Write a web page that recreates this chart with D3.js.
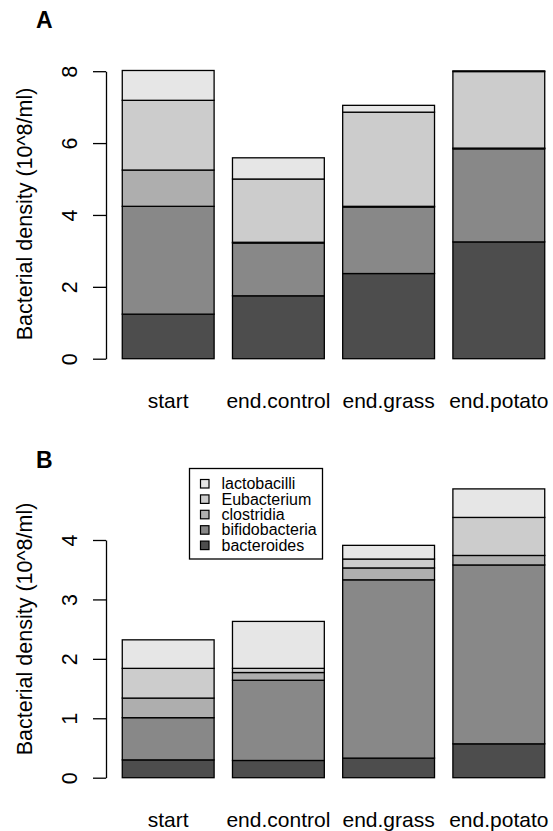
<!DOCTYPE html>
<html>
<head>
<meta charset="utf-8">
<script src="https://cdn.jsdelivr.net/npm/d3@7"></script>
<style>
  html, body { margin: 0; padding: 0; background: #fff; }
  svg { display: block; }
  text { font-family: "Liberation Sans", Arial, Helvetica, sans-serif; fill: #000; }
</style>
</head>
<body>
<svg id="chart" width="553" height="831"></svg>
<script>
// ---- data ----
const categories = ["start", "end.control", "end.grass", "end.potato"];
const groups = ["bacteroides", "bifidobacteria", "clostridia", "Eubacterium", "lactobacilli"];
const groupColors = ["#4D4D4D", "#888888", "#AEAEAE", "#CCCCCC", "#E6E6E6"];

// Panel A
const panelA_bacteroides    = [1.24, 1.75, 2.37, 3.25];
const panelA_bifidobacteria = [3.00, 1.47, 1.85, 2.59];
const panelA_clostridia     = [1.01, 0.02, 0.02, 0.02];
const panelA_Eubacterium    = [1.94, 1.76, 2.62, 2.13];
const panelA_lactobacilli   = [0.83, 0.59, 0.19, 0.02];
const panelA_ticks = [0, 2, 4, 6, 8];

// Panel B
const panelB_bacteroides    = [0.30, 0.29, 0.33, 0.57];
const panelB_bifidobacteria = [0.71, 1.35, 3.00, 3.01];
const panelB_clostridia     = [0.33, 0.13, 0.20, 0.16];
const panelB_Eubacterium    = [0.50, 0.07, 0.15, 0.64];
const panelB_lactobacilli   = [0.48, 0.79, 0.23, 0.48];
const panelB_ticks = [0, 1, 2, 3, 4];

const yTitle = "Bacterial density (10^8/ml)";

// ---- build ----
function rows(b, bi, c, e, l) {
  return categories.map((cat, i) => ({
    cat,
    bacteroides: b[i], bifidobacteria: bi[i], clostridia: c[i], Eubacterium: e[i], lactobacilli: l[i]
  }));
}
const dataA = rows(panelA_bacteroides, panelA_bifidobacteria, panelA_clostridia, panelA_Eubacterium, panelA_lactobacilli);
const dataB = rows(panelB_bacteroides, panelB_bifidobacteria, panelB_clostridia, panelB_Eubacterium, panelB_lactobacilli);

const svg = d3.select("#chart");
const color = d3.scaleOrdinal().domain(groups).range(groupColors);
const x = d3.scaleBand().domain(categories).range([103.9, 563.1]).paddingInner(1/6).paddingOuter(1/6);
const axisX = 106;

function panel(data, ticks, yZero, yTop, letter, letterY, titleY, labelY, withLegend) {
  const y = d3.scaleLinear().domain([0, d3.max(ticks)]).range([yZero, yTop]);
  const stack = d3.stack().keys(groups)(data);
  const g = svg.append("g");

  g.selectAll("g.layer").data(stack).join("g")
    .attr("class", "layer")
    .attr("fill", d => color(d.key))
    .selectAll("rect").data(d => d).join("rect")
    .attr("x", d => x(d.data.cat))
    .attr("width", x.bandwidth())
    .attr("y", d => y(d[1]))
    .attr("height", d => y(d[0]) - y(d[1]))
    .attr("stroke", "#000")
    .attr("stroke-width", 1.3);

  const ax = g.append("g")
    .attr("transform", `translate(${axisX},0)`)
    .call(d3.axisLeft(y).tickValues(ticks).tickSize(13).tickSizeOuter(0).tickFormat(d3.format("d")));
  ax.select(".domain").attr("stroke", "#000").attr("stroke-width", 1.3);
  ax.selectAll(".tick line").attr("stroke", "#000").attr("stroke-width", 1.3);
  ax.selectAll(".tick text")
    .attr("x", null).attr("y", null).attr("dy", null)
    .attr("text-anchor", "middle")
    .attr("transform", "translate(-29,0) rotate(-90)")
    .style("font-size", "21.5px")
    .style("font-family", "'Liberation Sans', Arial, sans-serif")
    .attr("fill", "#000");

  g.append("text")
    .attr("transform", `translate(32,${titleY}) rotate(-90)`)
    .attr("text-anchor", "middle")
    .style("font-size", "21.5px")
    .text(yTitle);

  g.selectAll("text.cat").data(categories).join("text")
    .attr("class", "cat")
    .attr("x", d => x(d) + x.bandwidth() / 2)
    .attr("y", labelY)
    .attr("text-anchor", "middle")
    .style("font-size", "21px")
    .text(d => d);

  g.append("text")
    .attr("x", 36)
    .attr("y", letterY)
    .style("font-size", "23px")
    .style("font-weight", "bold")
    .text(letter);

  if (withLegend) {
    const lg = g.append("g");
    lg.append("rect")
      .attr("x", 189.5).attr("y", 468.5).attr("width", 133).attr("height", 90.5)
      .attr("fill", "#fff").attr("stroke", "#000").attr("stroke-width", 1.3);
    const items = groups.slice().reverse();
    const it = lg.selectAll("g.item").data(items).join("g")
      .attr("class", "item")
      .attr("transform", (d, i) => `translate(0,${483.5 + i * 15.4})`);
    it.append("rect")
      .attr("x", 200.5).attr("y", -4).attr("width", 8.5).attr("height", 8.5)
      .attr("fill", d => color(d)).attr("stroke", "#000").attr("stroke-width", 1.2);
    it.append("text")
      .attr("x", 221.5).attr("y", 0).attr("dy", "0.36em")
      .style("font-size", "16px")
      .text(d => d);
  }
}

panel(dataA, panelA_ticks, 358.7, 71.2, "A", 28.3, 214, 407.5, false);
panel(dataB, panelB_ticks, 777.7, 540.0, "B", 468.3, 629, 826.5, true);
</script>
</body>
</html>
